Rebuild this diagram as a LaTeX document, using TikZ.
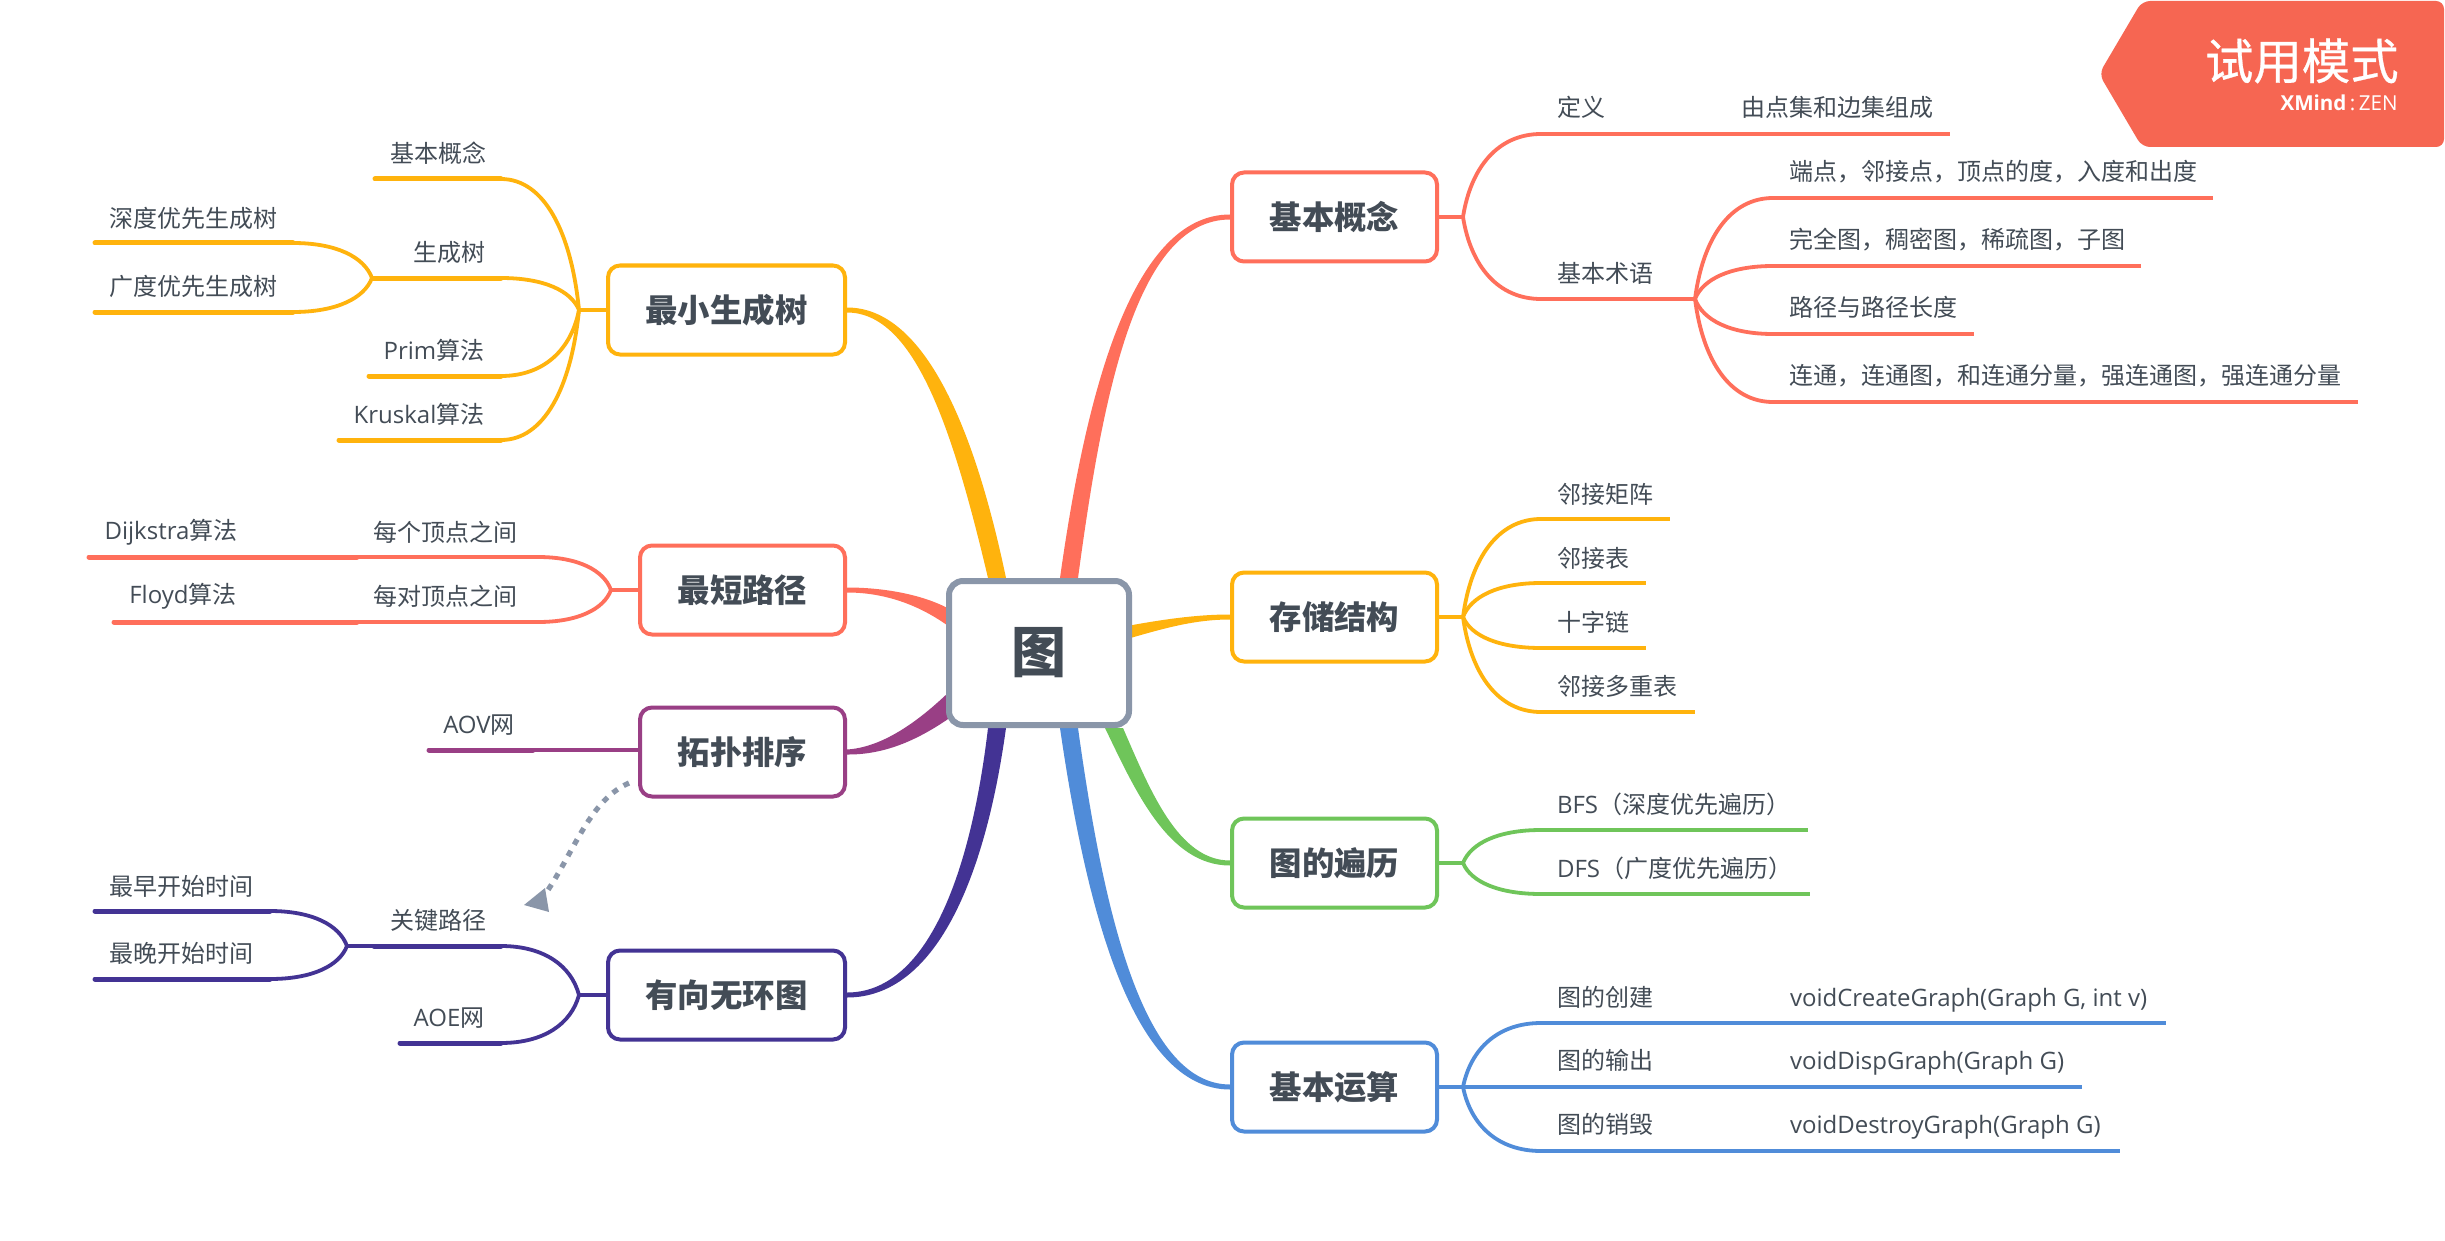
\documentclass[tikz,border=0pt]{standalone}
\usepackage{fontspec}
\setmainfont{Open Sans}
\newfontfamily\cjk{Noto Sans CJK SC}
\newfontfamily\cjkm[FakeBold=0.6]{Noto Sans CJK SC}
\usetikzlibrary{calc,backgrounds}
\definecolor{ink}{HTML}{434C56}
\definecolor{cred}{HTML}{FF6F5B}
\definecolor{cyel}{HTML}{FFB30D}
\definecolor{cgrn}{HTML}{6FC55A}
\definecolor{cblu}{HTML}{508CD9}
\definecolor{cpur}{HTML}{993F85}
\definecolor{cind}{HTML}{433394}
\definecolor{cgra}{HTML}{8A96A9}
\definecolor{cbad}{HTML}{F66652}
\newcommand\lat[1]{{\rmfamily #1}}
% thin curve from fork #2 to end #3
\newcommand\fkc[3]{\draw[#1,line width=1.9pt] (#2) .. controls ($(#2)!0.6!(#2|-#3)+0.1*(#3)-0.1*(#2|-#3)$) and ($(#3)!0.55!(#2|-#3)$) .. (#3);}
\newcommand\uln[3]{\draw[#1,line width=2.05pt] (#2) -- (#3);}
\newcommand\ull[3]{\draw[#1,line width=2.5pt,line cap=round] (#2) -- (#3);}
\newcommand\stm[3]{\draw[#1,line width=2pt] (#2) -- (#3);}
\tikzset{
  x=.5pt,y=-.5pt,
  leaf/.style={font=\cjk\fontsize{12}{14}\selectfont,text=ink,inner sep=0pt,outer sep=0pt},
  main/.style={draw=#1,line width=2pt,rounded corners=6pt,fill=white,inner sep=0pt,
    minimum height=44.5pt,font=\cjk\bfseries\fontsize{16.2}{18}\selectfont,text=ink},
  root/.style={draw=cgra,line width=3pt,rounded corners=7pt,fill=white,inner sep=0pt,
    minimum width=90pt,minimum height=72pt,font=\cjk\bfseries\fontsize{27.5}{30}\selectfont,text=ink},
}
\begin{document}
\begin{tikzpicture}
\useasboundingbox (0,0) rectangle (2445,1241);
% ---- main nodes
\node[root] (R) at (1039,653) {图};
\node[main=cred,minimum width=102.5pt] (A) at (1334.5,217) {基本概念};
\node[main=cyel,minimum width=102.5pt] (B) at (1334.5,617) {存储结构};
\node[main=cgrn,minimum width=102.5pt] (C) at (1334.5,863) {图的遍历};
\node[main=cblu,minimum width=102.5pt] (D) at (1334.5,1087) {基本运算};
\node[main=cyel,minimum width=118.5pt] (E) at (726.5,310) {最小生成树};
\node[main=cred,minimum width=102.5pt] (F) at (742.5,590) {最短路径};
\node[main=cpur,minimum width=102.5pt] (G) at (742.5,752) {拓扑排序};
\node[main=cind,minimum width=118.5pt] (H) at (726.5,995) {有向无环图};
% ---- leaf texts, right
\node[leaf,anchor=west] (a1) at (1557,107) {定义};
\node[leaf,anchor=west] (a1x) at (1741,107) {由点集和边集组成};
\node[leaf,anchor=west] (a2) at (1557,273) {基本术语};
\node[leaf,anchor=west] (a21) at (1789,172) {端点，邻接点，顶点的度，入度和出度};
\node[leaf,anchor=west] (a22) at (1789,240) {完全图，稠密图，稀疏图，子图};
\node[leaf,anchor=west] (a23) at (1789,307) {路径与路径长度};
\node[leaf,anchor=west] (a24) at (1789,376) {连通，连通图，和连通分量，强连通图，强连通分量};
\node[leaf,anchor=west] (b1) at (1557,494) {邻接矩阵};
\node[leaf,anchor=west] (b2) at (1557,558) {邻接表};
\node[leaf,anchor=west] (b3) at (1557,622) {十字链};
\node[leaf,anchor=west] (b4) at (1557,686) {邻接多重表};
\node[leaf,anchor=west] (c1) at (1557,804) {\lat{BFS}（深度优先遍历）};
\node[leaf,anchor=west] (c2) at (1557,868) {\lat{DFS}（广度优先遍历）};
\node[leaf,anchor=west] (d1) at (1557,997) {图的创建};
\node[leaf,anchor=west] (d2) at (1557,1060) {图的输出};
\node[leaf,anchor=west] (d3) at (1557,1124) {图的销毁};
\node[leaf,anchor=west] (d1x) at (1790,1000) {\lat{voidCreateGraph(Graph G, int v)}};
\node[leaf,anchor=west] (d2x) at (1790,1063) {\lat{voidDispGraph(Graph G)}};
\node[leaf,anchor=west] (d3x) at (1790,1127) {\lat{voidDestroyGraph(Graph G)}};
% ---- leaf texts, left
\node[leaf] (e1) at (438,153) {基本概念};
\node[leaf] (e2) at (449,252) {生成树};
\node[leaf] (e3) at (434,350) {\lat{Prim}算法};
\node[leaf] (e4) at (419,414) {\lat{Kruskal}算法};
\node[leaf] (e21) at (193,218) {深度优先生成树};
\node[leaf] (e22) at (193,286) {广度优先生成树};
\node[leaf] (f1) at (445,532) {每个顶点之间};
\node[leaf] (f2) at (445,596) {每对顶点之间};
\node[leaf] (f1x) at (171,532) {\lat{Dijkstra}算法};
\node[leaf] (f2x) at (183,596) {\lat{Floyd}算法};
\node[leaf] (g1) at (479,725) {\lat{AOV}网};
\node[leaf] (h1) at (438,920) {关键路径};
\node[leaf] (h2) at (449,1018) {\lat{AOE}网};
\node[leaf] (h11) at (181,886) {最早开始时间};
\node[leaf] (h12) at (181,953) {最晚开始时间};
% ---- connector way-points
\foreach \n/\x/\y in {
 fa/1463/217, fa1/1541/134, fa1x/1722/134, fa1e/1950/134, fa2/1541/299, fa2x/1695/299,
 t1/1773/198, t1e/2213/198, t2/1773/266, t2e/2141/266, t3/1773/334, t3e/1974/334, t4/1773/402, t4e/2358/402,
 fb/1463/617, b1s/1541/519, b1e/1670/519, b2s/1541/583, b2e/1646/583, b3s/1541/648, b3e/1646/648, b4s/1541/712, b4e/1695/712,
 fc/1463/863, c1s/1541/830, c1e/1808/830, c2s/1541/894, c2e/1810/894,
 fd/1463/1087, d1s/1541/1023, d1m/1773/1023, d1e/2166/1023, d2s/1541/1087, d2m/1773/1087, d2e/2082/1087, d3s/1541/1151, d3m/1773/1151, d3e/2120/1151,
 fe/579/310, e1s/501/179, e1e/375/179, e2s/501/278, e2e/373/278, e3s/501/376, e3e/369/376, e4s/501/440, e4e/339/440,
 fe2/372/278, e21s/293/243, e21e/95/243, e22s/293/312, e22e/95/312,
 ff/611/590, f1s/538/557, f1m/357/557, f1e/89/557, f2s/538/622, f2m/357/622, f2e/114/622,
 g1m/533/750, g1e/429/750,
 fh/579/995, h1s/501/946, h1m/374/946, fh1/347/946, h2s/501/1043, h2e/400/1043,
 h11s/270/911, h11e/95/911, h12s/270/979, h12e/95/979,
 rs/629/783, rt/546/893}
 {\coordinate (\n) at (\x,\y);}
\begin{scope}[on background layer]
\fill[white] (0,0) rectangle (2445,1241);
% tapered main connectors
\fill[cred] ($(R.north)+(21,0)$) .. controls (1085,400) and (1130,214.5) .. ($(A.west)+(0,-2.5)$) -- ($(A.west)+(0,2.5)$) .. controls (1135,219.5) and (1102,400) .. ($(R.north)+(39,0)$) -- cycle;
\fill[cyel] ($(R.east)+(-5,-27)$) .. controls (1160,620) and (1195,614.5) .. ($(B.west)+(0,-2.5)$) -- ($(B.west)+(0,2.5)$) .. controls (1195,619.5) and (1165,628) .. ($(R.east)+(-5,-14)$) -- cycle;
\fill[cgrn] ($(R.south)+(66,0)$) .. controls (1135,790) and (1168,865.5) .. ($(C.west)+(0,2.5)$) -- ($(C.west)+(0,-2.5)$) .. controls (1178,860.5) and (1150,790) .. ($(R.south)+(84,0)$) -- cycle;
\fill[cblu] ($(R.south)+(21,0)$) .. controls (1085,900) and (1130,1089.5) .. ($(D.west)+(0,2.5)$) -- ($(D.west)+(0,-2.5)$) .. controls (1140,1084.5) and (1102,900) .. ($(R.south)+(39,0)$) -- cycle;
\fill[cyel] ($(R.north)+(-33,0)$) .. controls (975,430) and (925,307.5) .. ($(E.east)+(0,-2.5)$) -- ($(E.east)+(0,2.5)$) .. controls (915,312.5) and (953,430) .. ($(R.north)+(-51,0)$) -- cycle;
\fill[cred] ($(R.west)+(5,-43)$) .. controls (925,595) and (885,587.5) .. ($(F.east)+(0,-2.5)$) -- ($(F.east)+(0,2.5)$) .. controls (885,592.5) and (920,605) .. ($(R.west)+(5,-25)$) -- cycle;
\fill[cpur] ($(R.west)+(5,37)$) .. controls (915,725) and (880,747.5) .. ($(G.east)+(0,-2.5)$) -- ($(G.east)+(0,2.5)$) .. controls (890,755) and (925,735) .. ($(R.west)+(5,64)$) -- cycle;
\fill[cind] ($(R.south)+(-51,0)$) .. controls (970,880) and (925,992.5) .. ($(H.east)+(0,-2.5)$) -- ($(H.east)+(0,2.5)$) .. controls (935,997.5) and (985,880) .. ($(R.south)+(-33,0)$) -- cycle;
% -- red A
\stm{cred}{A.east}{fa}\fkc{cred}{fa}{fa1}\fkc{cred}{fa}{fa2}
\stm{cred}{fa1}{fa1x}\uln{cred}{fa1x}{fa1e}\stm{cred}{fa2}{fa2x}
\fkc{cred}{fa2x}{t1}\fkc{cred}{fa2x}{t2}\fkc{cred}{fa2x}{t3}\fkc{cred}{fa2x}{t4}
\uln{cred}{t1}{t1e}\uln{cred}{t2}{t2e}\uln{cred}{t3}{t3e}\uln{cred}{t4}{t4e}
% -- yellow B
\stm{cyel}{B.east}{fb}\fkc{cyel}{fb}{b1s}\fkc{cyel}{fb}{b2s}\fkc{cyel}{fb}{b3s}\fkc{cyel}{fb}{b4s}
\uln{cyel}{b1s}{b1e}\uln{cyel}{b2s}{b2e}\uln{cyel}{b3s}{b3e}\uln{cyel}{b4s}{b4e}
% -- green C
\stm{cgrn}{C.east}{fc}\fkc{cgrn}{fc}{c1s}\fkc{cgrn}{fc}{c2s}\uln{cgrn}{c1s}{c1e}\uln{cgrn}{c2s}{c2e}
% -- blue D
\stm{cblu}{D.east}{fd}\fkc{cblu}{fd}{d1s}\stm{cblu}{fd}{d2s}\fkc{cblu}{fd}{d3s}
\stm{cblu}{d1s}{d1m}\stm{cblu}{d2s}{d2m}\stm{cblu}{d3s}{d3m}
\uln{cblu}{d1m}{d1e}\uln{cblu}{d2m}{d2e}\uln{cblu}{d3m}{d3e}
% -- yellow E
\stm{cyel}{E.west}{fe}\fkc{cyel}{fe}{e1s}\fkc{cyel}{fe}{e2s}\fkc{cyel}{fe}{e3s}\fkc{cyel}{fe}{e4s}
\ull{cyel}{e1s}{e1e}\ull{cyel}{e2s}{e2e}\ull{cyel}{e3s}{e3e}\ull{cyel}{e4s}{e4e}
\fkc{cyel}{fe2}{e21s}\fkc{cyel}{fe2}{e22s}\ull{cyel}{e21s}{e21e}\ull{cyel}{e22s}{e22e}
% -- red F
\stm{cred}{F.west}{ff}\fkc{cred}{ff}{f1s}\fkc{cred}{ff}{f2s}
\stm{cred}{f1s}{f1m}\stm{cred}{f2s}{f2m}\ull{cred}{f1m}{f1e}\ull{cred}{f2m}{f2e}
% -- purple G
\stm{cpur}{G.west|-g1m}{g1m}\ull{cpur}{g1m}{g1e}
% -- indigo H
\stm{cind}{H.west}{fh}\fkc{cind}{fh}{h1s}\fkc{cind}{fh}{h2s}
\ull{cind}{h1s}{h1m}\stm{cind}{h1m}{fh1}\ull{cind}{h2s}{h2e}
\fkc{cind}{fh1}{h11s}\fkc{cind}{fh1}{h12s}\ull{cind}{h11s}{h11e}\ull{cind}{h12s}{h12e}
\end{scope}
% relationship
\draw[cgra,line width=2.6pt,dash pattern=on 3pt off 3.5pt] (rs) .. controls (590,800) and (575,850) .. (rt);
\fill[cgra] (524,905) -- (545,888) -- (549,912) -- cycle;
% badge
\fill[cbad,rounded corners=4pt] (2142,1) -- (2444,1) -- (2444,147) -- (2142,147) -- (2099,74) -- cycle;
\node[inner sep=0pt,text=white,font=\cjkm\fontsize{24.2}{28}\selectfont,anchor=east] (w1) at (2399,61) {试用模式};
\node[inner sep=0pt,text=white,font=\fontsize{10.3}{12}\selectfont,anchor=east] (w2) at (2398,103) {\textbf{XMind}\,:\,ZEN};
\end{tikzpicture}
\end{document}
